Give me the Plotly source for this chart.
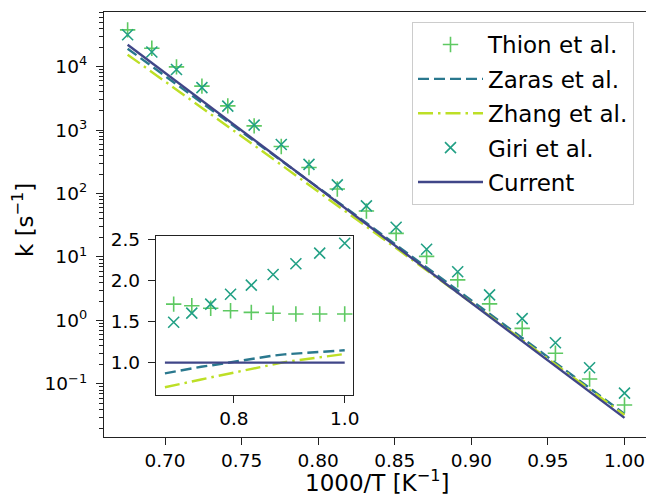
import plotly.graph_objects as go

# ---- data ----
inv_T = [0.6756, 0.6914, 0.7075, 0.7241, 0.7410, 0.7582, 0.7759, 0.7940, 0.8125,
         0.8315, 0.8509, 0.8708, 0.8911, 0.9119, 0.9332, 0.9549, 0.9772, 1.0]

k_current = [21980, 11370, 5808, 2906, 1435, 700.2, 334.6, 157.2, 72.67,
             32.89, 14.64, 6.383, 2.736, 1.149, 0.4723, 0.1910, 0.07534, 0.02923]
k_thion = [37810, 19440, 9874, 4911, 2404, 1162, 550.4, 256.2, 117.7,
           52.95, 23.50, 10.21, 4.364, 1.827, 0.7510, 0.3037, 0.1198, 0.04648]
k_zaras = [19120, 10120, 5285, 2703, 1363, 675.7, 329.6, 158.0, 74.49,
           34.37, 15.59, 6.926, 3.010, 1.275, 0.5290, 0.2158, 0.08589, 0.03361]
k_zhang = [15390, 8243, 4356, 2252, 1141, 574.2, 282.7, 136.8, 65.04,
           30.42, 13.98, 6.255, 2.750, 1.178, 0.4936, 0.2034, 0.08174, 0.03230]
k_giri = [31650, 16940, 8973, 4650, 2375, 1197, 592.2, 287.7, 137.0,
          63.81, 29.35, 13.21, 5.841, 2.528, 1.070, 0.4450, 0.1801, 0.07161]

labels = ["Thion et al.", "Zaras et al.", "Zhang et al.", "Giri et al.", "Current"]
ytick_vals = [0.1, 1, 10, 100, 1000, 10000]
ytick_text = ["10<sup>\u22121</sup>", "10<sup>0</sup>", "10<sup>1</sup>",
              "10<sup>2</sup>", "10<sup>3</sup>", "10<sup>4</sup>"]
xtick_vals = [0.70, 0.75, 0.80, 0.85, 0.90, 0.95, 1.00]
inset_xticks = [0.8, 1.0]
inset_yticks = [1.0, 1.5, 2.0, 2.5]

# ---- styles ----
C_THION = "#5ec962"
C_ZARAS = "#2a788e"
C_ZHANG = "#bddf26"
C_GIRI = "#22a085"
C_CUR = "#404688"
FONT = "DejaVu Sans"
AX = "#222222"

W, H = 646, 499

# ratios for inset (relative to current)
r_thion = [a / b for a, b in zip(k_thion, k_current)]
r_zaras = [a / b for a, b in zip(k_zaras, k_current)]
r_zhang = [a / b for a, b in zip(k_zhang, k_current)]
r_giri = [a / b for a, b in zip(k_giri, k_current)]
r_cur = [a / b for a, b in zip(k_current, k_current)]

fig = go.Figure()

# main axes traces (legend order)
fig.add_trace(go.Scatter(x=inv_T, y=k_thion, mode="markers", name=labels[0], legendgroup="a",
                         marker=dict(symbol="cross-thin", size=11, line=dict(color=C_THION, width=1.6))))
fig.add_trace(go.Scatter(x=inv_T, y=k_zaras, mode="lines", name=labels[1], legendgroup="b",
                         line=dict(color=C_ZARAS, width=2.4, dash="11px,5px")))
fig.add_trace(go.Scatter(x=inv_T, y=k_zhang, mode="lines", name=labels[2], legendgroup="c",
                         line=dict(color=C_ZHANG, width=2.4, dash="15px,5px,2.5px,5px")))
fig.add_trace(go.Scatter(x=inv_T, y=k_giri, mode="markers", name=labels[3], legendgroup="d",
                         marker=dict(symbol="x-thin", size=11, line=dict(color=C_GIRI, width=1.6))))
fig.add_trace(go.Scatter(x=inv_T, y=k_current, mode="lines", name=labels[4], legendgroup="e",
                         line=dict(color=C_CUR, width=2.4)))

# inset traces
odd = slice(1, None, 2)
fig.add_trace(go.Scatter(x=inv_T[odd], y=r_thion[odd], mode="markers", showlegend=False,
                         xaxis="x2", yaxis="y2",
                         marker=dict(symbol="cross-thin", size=11, line=dict(color=C_THION, width=1.6))))
fig.add_trace(go.Scatter(x=inv_T, y=r_zaras, mode="lines", showlegend=False, xaxis="x2", yaxis="y2",
                         line=dict(color=C_ZARAS, width=2.4, dash="11px,5px")))
fig.add_trace(go.Scatter(x=inv_T, y=r_zhang, mode="lines", showlegend=False, xaxis="x2", yaxis="y2",
                         line=dict(color=C_ZHANG, width=2.4, dash="15px,5px,2.5px,5px")))
fig.add_trace(go.Scatter(x=inv_T[odd], y=r_giri[odd], mode="markers", showlegend=False,
                         xaxis="x2", yaxis="y2",
                         marker=dict(symbol="x-thin", size=11, line=dict(color=C_GIRI, width=1.6))))
fig.add_trace(go.Scatter(x=inv_T, y=r_cur, mode="lines", showlegend=False, xaxis="x2", yaxis="y2",
                         line=dict(color=C_CUR, width=2.4)))

minor_vals = [m * 10 ** e for e in range(-2, 5) for m in range(2, 10)]

tickfont = dict(family=FONT, size=18.5, color="black")

fig.update_layout(
    width=W, height=H,
    margin=dict(l=0, r=0, t=0, b=0),
    paper_bgcolor="white", plot_bgcolor="white",
    font=dict(family=FONT, color="black"),
    xaxis=dict(domain=[104 / W, 1.0], range=[0.66017, 1.01404], anchor="y",
               showline=True, linecolor=AX, linewidth=1.3, mirror=True,
               ticks="outside", ticklen=7, tickwidth=1.3, tickcolor=AX,
               tickvals=xtick_vals, tickformat=".2f", tickfont=tickfont,
               showgrid=False, zeroline=False, automargin=False),
    yaxis=dict(domain=[1 - 437 / H, 1 - 11.5 / H], type="log", range=[-1.836, 4.867], anchor="x",
               showline=True, linecolor=AX, linewidth=1.3, mirror=False,
               ticks="outside", ticklen=7, tickwidth=1.3, tickcolor=AX,
               tickvals=ytick_vals, ticktext=ytick_text, tickfont=tickfont,
               ticklabelstandoff=5,
               minor=dict(tickvals=minor_vals, ticks="outside", ticklen=4, tickwidth=1, tickcolor=AX),
               showgrid=False, zeroline=False, automargin=False),
    xaxis2=dict(domain=[156 / W, 353.3 / W], range=[0.6595, 1.0155], anchor="y2",
                showline=True, linecolor=AX, linewidth=1.3, mirror=True,
                ticks="outside", ticklen=7, tickwidth=1.3, tickcolor=AX,
                tickvals=inset_xticks, tickformat=".1f", tickfont=tickfont,
                showgrid=False, zeroline=False, automargin=False),
    yaxis2=dict(domain=[1 - 394.5 / H, 1 - 236 / H], range=[0.6125, 2.5375], anchor="x2",
                showline=True, linecolor=AX, linewidth=1.3, mirror=True,
                ticks="outside", ticklen=7, tickwidth=1.3, tickcolor=AX,
                tickvals=inset_yticks, tickformat=".1f", tickfont=tickfont,
                ticklabelstandoff=4,
                showgrid=False, zeroline=False, automargin=False),
    legend=dict(x=412 / W, y=1 - 22 / H, xanchor="left", yanchor="top",
                bgcolor="rgba(255,255,255,0.85)", bordercolor="#cccccc", borderwidth=1,
                font=dict(family=FONT, size=23, color="black"),
                itemwidth=65, tracegroupgap=1.5),
    showlegend=True,
    annotations=[
        dict(text="1000/T [K<sup>\u22121</sup>]", x=377 / W, y=1 - 481 / H, xref="paper", yref="paper",
             xanchor="center", yanchor="middle", showarrow=False,
             font=dict(family=FONT, size=23, color="black")),
        dict(text="k [s<sup>\u22121</sup>]", x=23 / W, y=1 - 220 / H, xref="paper", yref="paper",
             xanchor="center", yanchor="middle", showarrow=False, textangle=-90,
             font=dict(family=FONT, size=23, color="black")),
    ],
)

fig.write_html("out.html")
